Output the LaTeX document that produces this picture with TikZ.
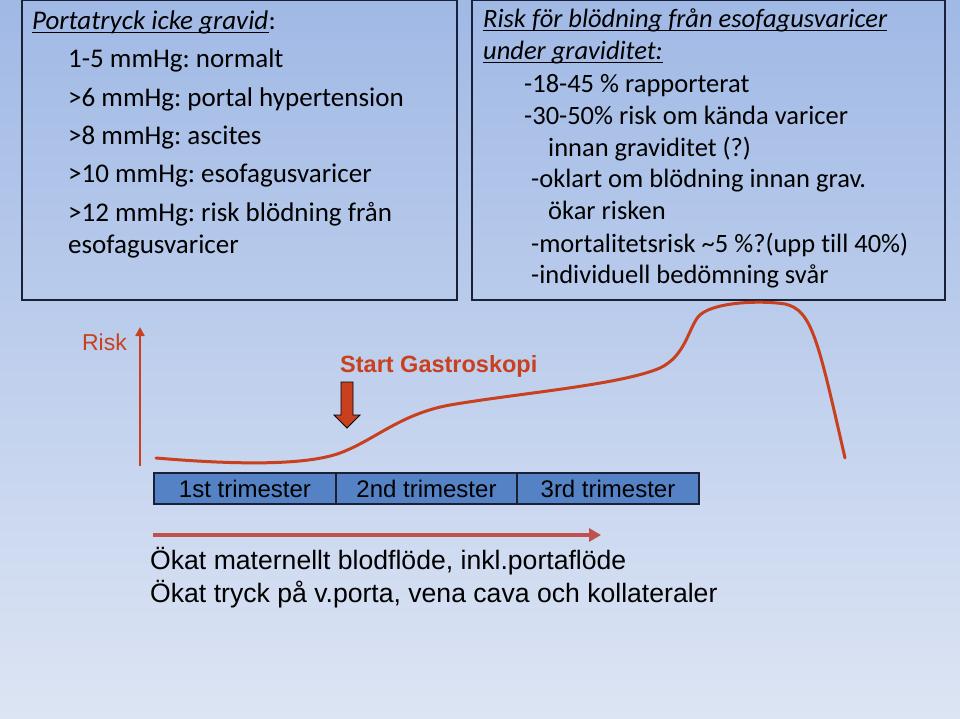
\documentclass[tikz,border=0pt]{standalone}
\usepackage{fontspec}
\setmainfont{Carlito}[Ligatures=NoCommon]
\newfontfamily\arialfont{Liberation Sans}
\usetikzlibrary{positioning,arrows.meta}
\frenchspacing

\definecolor{bgtop}{RGB}{160,185,229}
\definecolor{bgbottom}{RGB}{221,229,244}
\definecolor{riskred}{RGB}{200,64,30}
\definecolor{flowred}{RGB}{192,80,77}
\definecolor{barblue}{RGB}{84,130,196}
\definecolor{panelline}{RGB}{25,32,55}

\begin{document}
\begin{tikzpicture}[
    x=1pt, y=-1pt,
    panel/.style={draw=panelline, line width=1.5pt, inner sep=0pt, outer sep=0pt, anchor=north west},
    lefttxt/.style={anchor=base west, inner sep=0pt, font=\fontsize{27}{32}\selectfont},
    righttxt/.style={anchor=base west, inner sep=0pt, font=\fontsize{26.5}{31}\selectfont},
    trim/.style={draw=panelline, line width=1.2pt, fill=barblue, inner sep=0pt, outer sep=0pt,
                 minimum height=31pt, font=\arialfont\fontsize{24}{28}\selectfont},
    arialtxt/.style={anchor=base west, inner sep=0pt, font=\arialfont\fontsize{26.6}{31}\selectfont},
    uline/.style={line width=1.2pt}
  ]
  % background
  \shade[top color=bgtop, bottom color=bgbottom] (0,0) rectangle (960,719);
  \useasboundingbox (0,0) rectangle (960,719);

  % panels
  \node[panel, minimum width=435pt, minimum height=300pt] (leftpanel) at (22,0) {};
  \node[panel, minimum width=473pt, minimum height=300pt] (rightpanel) at (472,0) {};

  % left panel text
  \node[lefttxt] (lt0) at (32,30) {\itshape Portatryck icke gravid};
  \node[lefttxt] (lt0c) at (lt0.base east) {:};
  \draw[uline] ([yshift=-2.5pt]lt0.base west) -- ([yshift=-2.5pt]lt0.base east);
  \node[lefttxt] (lt1) at (68,68) {1-5 mmHg: normalt};
  \node[lefttxt] (lt2) at (68,107) {>6 mmHg: portal hypertension};
  \node[lefttxt] (lt3) at (68,145) {>8 mmHg: ascites};
  \node[lefttxt] (lt4) at (68,183) {>10 mmHg: esofagusvaricer};
  \node[lefttxt] (lt5) at (68,222) {>12 mmHg: risk blödning från};
  \node[lefttxt] (lt6) at (68,253) {esofagusvaricer};

  % right panel text
  \node[righttxt] (rt0) at (483,28) {\itshape Risk för blödning från esofagusvaricer};
  \draw[uline] ([yshift=-2.5pt]rt0.base west) -- ([yshift=-2.5pt]rt0.base east);
  \node[righttxt] (rt1) at (483,60) {\itshape under graviditet:};
  \draw[uline] ([yshift=-2.5pt]rt1.base west) -- ([yshift=-2.5pt]rt1.base east);
  \node[righttxt] (rt2) at (524,93) {-18-45 \% rapporterat};
  \node[righttxt] (rt3) at (524,125) {-30-50\% risk om kända varicer};
  \node[righttxt] (rt4) at (548,157) {innan graviditet (?)};
  \node[righttxt] (rt5) at (531,188) {-oklart om blödning innan grav.};
  \node[righttxt] (rt6) at (548,220) {ökar risken};
  \node[righttxt] (rt7) at (531,252) {-mortalitetsrisk \textasciitilde5 \%?(upp till 40\%)};
  \node[righttxt] (rt8) at (531,283) {-individuell bedömning svår};

  % risk axis
  \coordinate (axisbottom) at (140,466);
  \coordinate (axistop) at (140,327);
  \draw[riskred, line width=2.5pt, -{Triangle[width=9pt,length=9pt]}] (axisbottom) -- (axistop);
  \node[anchor=base east, inner sep=0pt, text=riskred, font=\arialfont\fontsize{23}{27}\selectfont] (risklabel) at (127,350) {Risk};

  % gastroskopi
  \node[anchor=base west, inner sep=0pt, text=riskred, font=\arialfont\bfseries\fontsize{23.5}{28}\selectfont] (gastro) at (340,372) {Start Gastroskopi};
  \coordinate (gastrotip) at (347,428);
  \draw[fill=riskred, draw=black, line width=0.8pt]
    (gastrotip) -- ++(-13,-13) -- ++(7,0) -- ++(0,-33) -- ++(12,0) -- ++(0,33) -- ++(7,0) -- cycle;

  % risk curve
  \draw[riskred, line width=3pt, line cap=round]
    (156,458) .. controls (250,466) and (310,464) .. (340,453)
              .. controls (375,440) and (400,414) .. (450,405)
              .. controls (520,393) and (620,385) .. (660,368)
              .. controls (685,356) and (688,330) .. (698,317)
              .. controls (710,302) and (760,300) .. (785,304)
              .. controls (812,310) and (818,340) .. (845,458);

  % trimesters
  \node[trim, minimum width=182pt, anchor=north west] (tri1) at (154,473) {1st trimester};
  \node[trim, minimum width=181pt, right=0pt of tri1] (tri2) {2nd trimester};
  \node[trim, minimum width=182pt, right=0pt of tri2] (tri3) {3rd trimester};

  % blood flow
  \coordinate (flowstart) at (153,535);
  \coordinate (flowend) at (601,535);
  \draw[flowred, line width=4pt, -{Triangle[width=13pt,length=12pt]}] (flowstart) -- (flowend);
  \node[arialtxt] (flow1) at (150,569) {Ökat maternellt blodflöde, inkl.portaflöde};
  \node[arialtxt] (flow2) at (150,602) {Ökat tryck på v.porta, vena cava och kollateraler};
\end{tikzpicture}
\end{document}
